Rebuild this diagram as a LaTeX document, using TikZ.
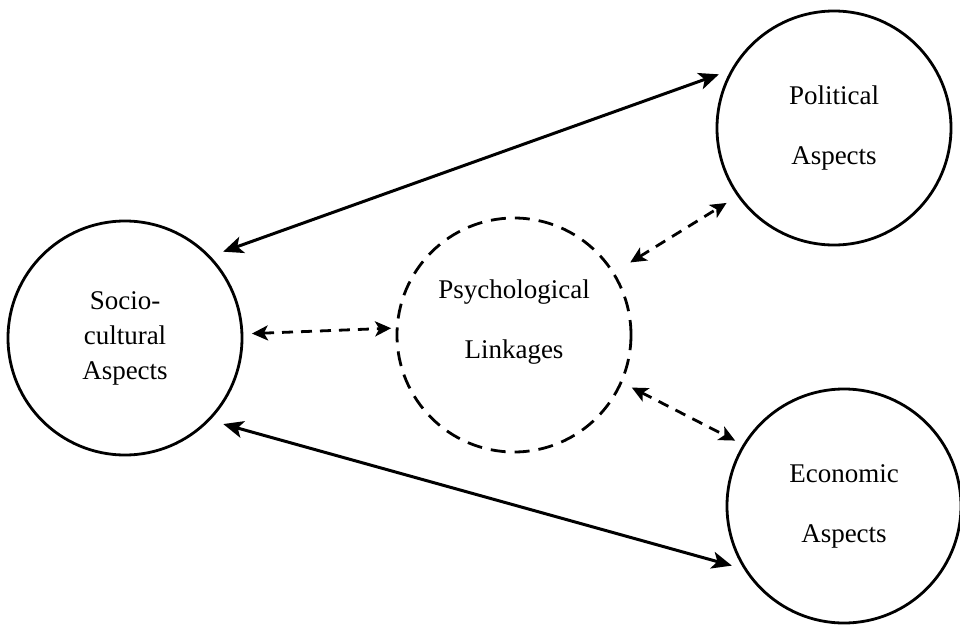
\documentclass[tikz,border=0pt]{standalone}
\usepackage{fontspec}
\setmainfont{Liberation Serif}
\usetikzlibrary{arrows.meta}
\tikzset{
  aspect/.style={circle, draw, line width=1.4pt, minimum size=117pt, inner sep=0pt, outer sep=5pt, align=center},
  lbl/.style={align=center, font=\fontsize{13.5}{30}\selectfont},
  solidarrow/.style={line width=1.5pt, {Stealth[length=10pt,width=8.5pt,inset=2.5pt]}-{Stealth[length=10pt,width=8.5pt,inset=2.5pt]}},
  dasharrow/.style={line width=1.4pt, dash pattern=on 5.5pt off 4pt, {Stealth[length=8pt,width=7.5pt,inset=2pt]}-{Stealth[length=8pt,width=7.5pt,inset=2pt]}}
}
\begin{document}
\begin{tikzpicture}[x=0.5pt,y=-0.5pt]
\useasboundingbox (0,0) rectangle (960,627);
\node[aspect, font=\fontsize{13.5}{17.5}\selectfont] (soc) at (125,338) {Socio-\\cultural\\Aspects};
\node[aspect, dash pattern=on 7.5pt off 4.5pt] (psy) at (514,335) {};
\node[lbl] (psytext) at (514,322) {Psychological\\Linkages};
\node[aspect, lbl] (pol) at (834,128) {Political\\Aspects};
\node[aspect, lbl] (eco) at (844,506) {Economic\\Aspects};
\draw[solidarrow, shorten <=2pt] (soc.42) -- (pol.155);
\draw[solidarrow, shorten <=2pt] (soc.318) -- (eco.208);
\draw[dasharrow, shorten >=-2pt] (soc.2) -- (psy.177);
\draw[dasharrow, shorten <=5pt, shorten >=2pt] (psy.32) -- (pol.215);
\draw[dasharrow, shorten <=1pt] (psy.336) -- (eco.149);
\end{tikzpicture}
\end{document}
